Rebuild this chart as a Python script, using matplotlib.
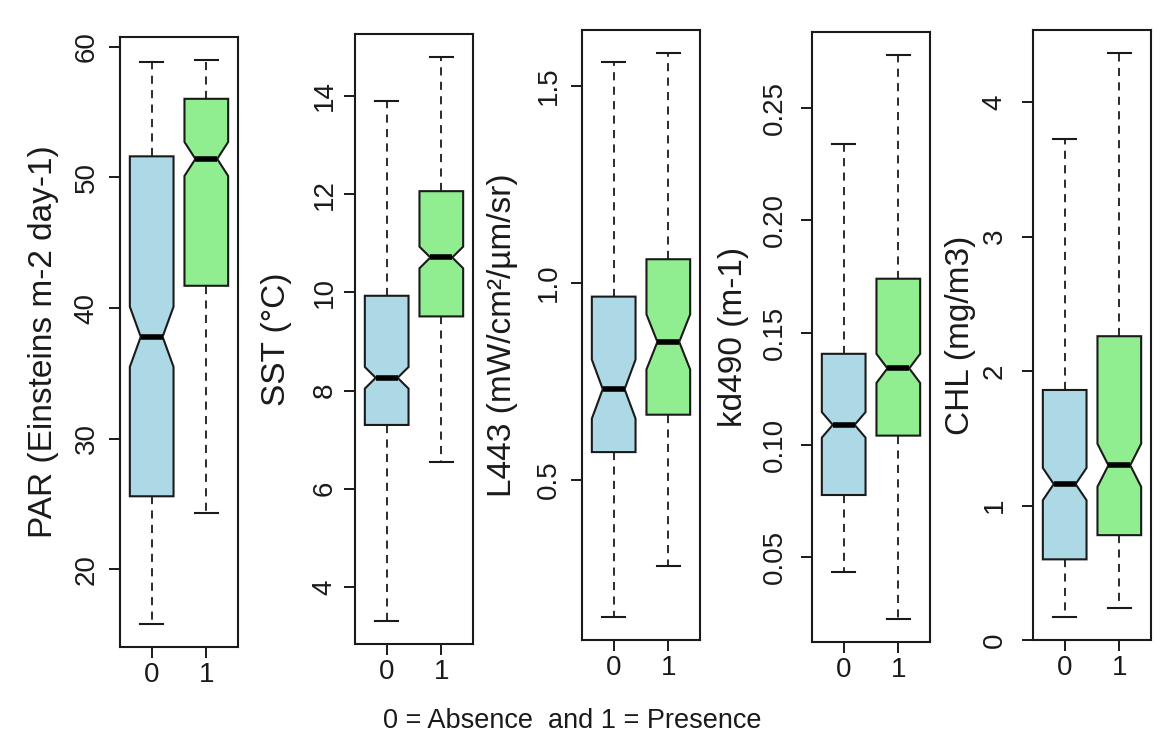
import matplotlib.pyplot as plt
from matplotlib import font_manager

plt.rcParams['font.family'] = ['Liberation Sans', 'DejaVu Sans']

# stats per group: whislo, q1, median, q3, whishi, notch half-width
groups = ['0', '1']

par_0 = [15.8, 25.6, 37.8, 51.6, 58.8, 2.3]
par_1 = [24.3, 41.7, 51.4, 56.0, 59.0, 1.3]

sst_0 = [3.3, 7.3, 8.26, 9.93, 13.9, 0.22]
sst_1 = [6.55, 9.51, 10.71, 12.06, 14.8, 0.22]

l443_0 = [0.15, 0.57, 0.73, 0.965, 1.56, 0.075]
l443_1 = [0.28, 0.665, 0.85, 1.06, 1.585, 0.07]

kd490_0 = [0.043, 0.0775, 0.1088, 0.1405, 0.234, 0.0057]
kd490_1 = [0.022, 0.104, 0.134, 0.174, 0.274, 0.0065]

chl_0 = [0.17, 0.60, 1.16, 1.86, 3.73, 0.12]
chl_1 = [0.24, 0.78, 1.30, 2.26, 4.37, 0.16]

ylabels = ['PAR (Einsteins m-2 day-1)', 'SST (°C)', 'L443 (mW/cm²/µm/sr)',
           'kd490 (m-1)', 'CHL (mg/m3)']
yticks = [[20, 30, 40, 50, 60],
          [4, 6, 8, 10, 12, 14],
          [0.5, 1.0, 1.5],
          [0.05, 0.10, 0.15, 0.20, 0.25],
          [0, 1, 2, 3, 4]]
ytick_labels = [['20', '30', '40', '50', '60'],
                ['4', '6', '8', '10', '12', '14'],
                ['0.5', '1.0', '1.5'],
                ['0.05', '0.10', '0.15', '0.20', '0.25'],
                ['0', '1', '2', '3', '4']]
caption = '0 = Absence  and 1 = Presence'

panels = [(par_0, par_1), (sst_0, sst_1), (l443_0, l443_1),
          (kd490_0, kd490_1), (chl_0, chl_1)]

# the unrotated text in the picture looks squeezed sideways
installed = {f.name for f in font_manager.fontManager.ttflist}
narrow = 'Liberation Sans Narrow' in installed
flat_family = ['Liberation Sans Narrow'] if narrow else ['Liberation Sans']
caption_fs = 22.5 if narrow else 19.5
xtick_fs = 22 if narrow else 20

# panel frames in pixels (left, top), label centre x, tick label centre x
W, H = 1174, 749
frames = [(120, 37), (355, 34), (582, 30), (812, 32), (1033, 30)]
label_x = [44, 277, 502, 733, 960]
tick_x = [84, 322, 546, 772, 992]
pw, ph = 118, 610

colors = ['#ADD8E6', '#90EE90']
tick_fs = 20
label_fs = 24

fig = plt.figure(figsize=(W / 100, H / 100), dpi=100)

for i, (g0, g1) in enumerate(panels):
    left, top = frames[i]
    ax = fig.add_axes([left / W, 1 - (top + ph) / H, pw / W, ph / H])

    stats = []
    for s, name in zip((g0, g1), groups):
        stats.append(dict(whislo=s[0], q1=s[1], med=s[2], q3=s[3], whishi=s[4],
                          cilo=s[2] - s[5], cihi=s[2] + s[5], fliers=[], label=name))

    bp = ax.bxp(stats, positions=[1, 2], widths=0.8, capwidths=0.42,
                shownotches=True, patch_artist=True, showfliers=False,
                boxprops=dict(edgecolor='#1a1a1a', linewidth=1.5),
                whiskerprops=dict(color='#1a1a1a', linewidth=1.3, linestyle=(0, (4.5, 3.5))),
                capprops=dict(color='#1a1a1a', linewidth=1.5),
                medianprops=dict(color='black', linewidth=4, solid_capstyle='butt'))
    for patch, c in zip(bp['boxes'], colors):
        patch.set_facecolor(c)

    # R style range: whiskers extended by 4%
    lo = min(g0[0], g1[0])
    hi = max(g0[4], g1[4])
    r = hi - lo
    ax.set_ylim(lo - 0.04 * r, hi + 0.04 * r)
    ax.set_xlim(0.42, 2.58)

    ax.set_xticks([1, 2])
    ax.set_xticklabels(groups, family=flat_family)
    ax.set_yticks(yticks[i])
    ax.set_yticklabels(ytick_labels[i], rotation=90, va='center')

    half = tick_fs / 0.72 * (0.21 + 0.36)
    pad_px = (left - tick_x[i]) - 11 - half
    ax.tick_params(axis='y', length=8, width=1.4, pad=max(pad_px, 1) * 0.72,
                   labelsize=tick_fs, colors='#1a1a1a')
    ax.tick_params(axis='x', length=8, width=1.4, pad=3.0, labelsize=xtick_fs,
                   colors='#1a1a1a')
    for sp in ax.spines.values():
        sp.set_linewidth(1.5)
        sp.set_color('#1a1a1a')

    ax.set_ylabel(ylabels[i], fontsize=label_fs, color='#1a1a1a')
    ax.yaxis.set_label_coords((label_x[i] - left) / pw, 0.5)
    ax.yaxis.label.set_va('center')

fig.text(572 / W, 1 - 721 / H, caption, ha='center', va='center', fontsize=caption_fs,
         family=flat_family, color='#1a1a1a')

plt.savefig('out.png', dpi=100)
